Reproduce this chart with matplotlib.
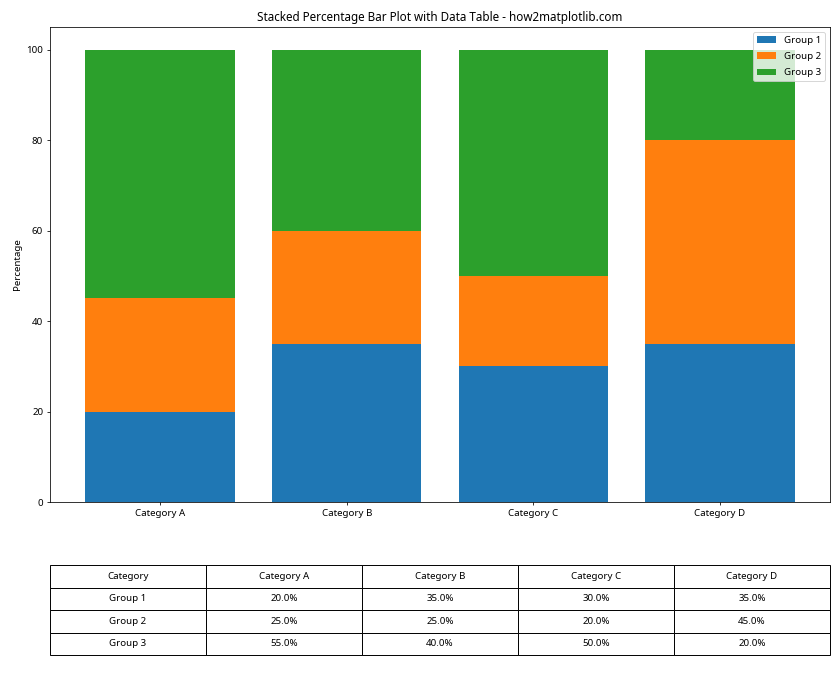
import matplotlib; matplotlib.use('Agg')
import matplotlib.pyplot as plt
import numpy as np

plt.rcParams['font.family'] = ['Noto Sans', 'DejaVu Sans']

categories = ['Category A', 'Category B', 'Category C', 'Category D']
groups = ['Group 1', 'Group 2', 'Group 3']
group1 = [20, 35, 30, 35]
group2 = [25, 25, 20, 45]
group3 = [55, 40, 50, 20]
colors = ['#1f77b4', '#ff7f0e', '#2ca02c']

data = np.array([group1, group2, group3], dtype=float)
pct = data / data.sum(axis=0) * 100

fig = plt.figure(figsize=(12, 10), dpi=70)
ax = fig.add_axes([50/840, 198/700, 780/840, 475/700])

bottom = np.zeros(len(categories))
for i, g in enumerate(groups):
    ax.bar(categories, pct[i], bottom=bottom, label=g, color=colors[i], width=0.8)
    bottom += pct[i]

ax.set_ylabel('Percentage')
ax.set_title('Stacked Percentage Bar Plot with Data Table - how2matplotlib.com')
ax.legend(loc='upper right', labelspacing=0.75)

# table below
tax = fig.add_axes([50/840, 45/700, 780/840, 90/700])
tax.axis('off')
cell_text = [['Category'] + categories]
for i, g in enumerate(groups):
    cell_text.append([g] + [f"{v:.1f}%" for v in pct[i]])
tbl = tax.table(cellText=cell_text, cellLoc='center', bbox=[0, 0, 1, 1])
tbl.auto_set_font_size(False)
tbl.set_fontsize(10)

fig.savefig('out.png', dpi=70)
